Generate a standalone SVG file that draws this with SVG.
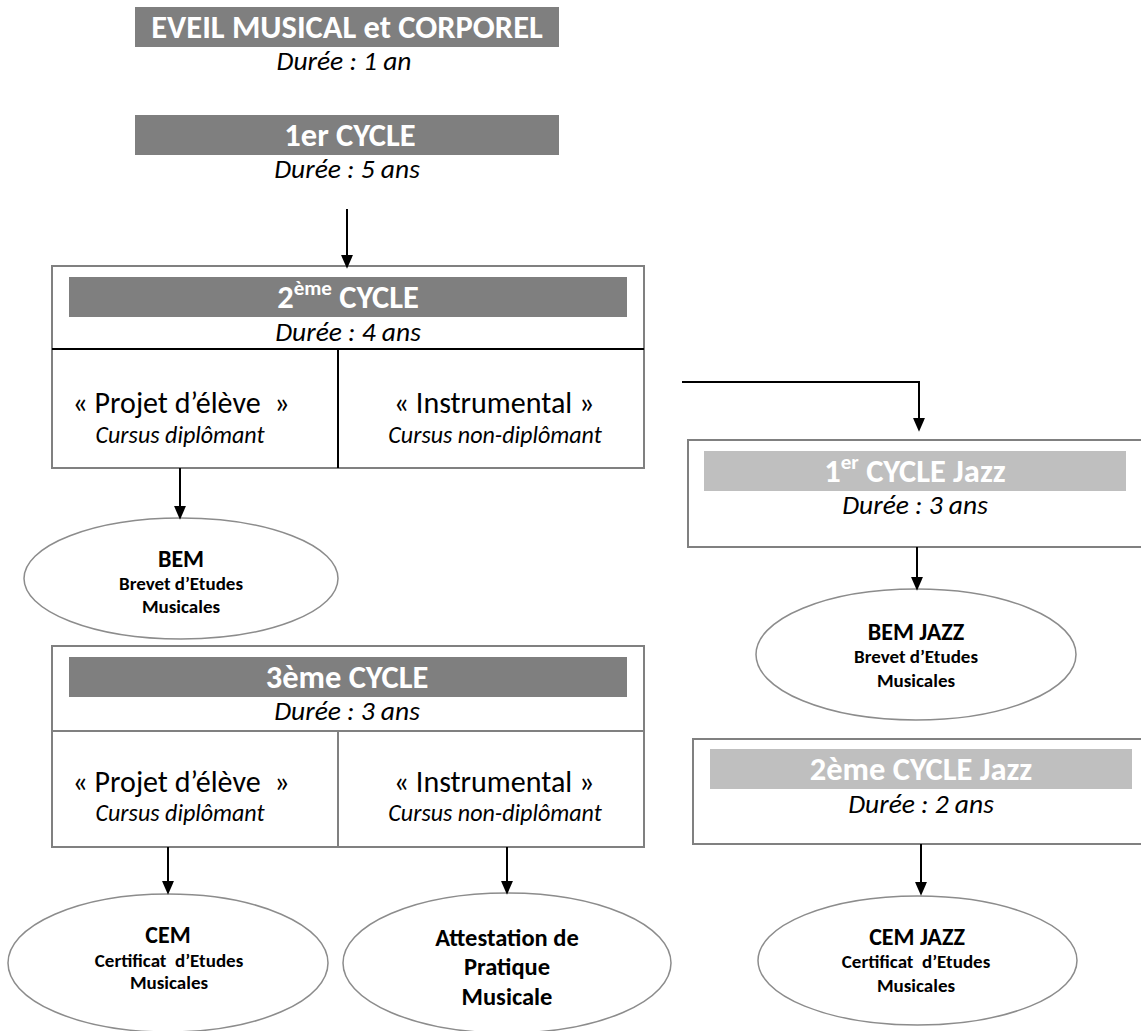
<svg xmlns="http://www.w3.org/2000/svg" width="1141" height="1031" viewBox="0 0 1141 1031">
<defs>
<style>
text{font-family:Carlito,Lato,"Liberation Sans",sans-serif;text-anchor:middle;fill:#000}
.dark{fill:#7f7f7f}
.light{fill:#bfbfbf}
.box{fill:#fff;stroke:#808080;stroke-width:2}
.ell{fill:#fff;stroke:#8c8c8c;stroke-width:1.5}
.ttl{font-weight:bold;font-size:32.5px;fill:#fff}
.sup{font-size:21px}
.dur{font-style:italic;font-size:27.5px}
.opt{font-size:30px}
.cur{font-style:italic;font-size:24px}
.eh{font-weight:bold;font-size:24px}
.es{font-weight:bold;font-size:19px}
.ea{font-weight:bold;font-size:24.5px}
.div{stroke:#000;stroke-width:2}
.divg{stroke:#808080;stroke-width:2}
.conn{fill:none;stroke:#000;stroke-width:2;marker-end:url(#arr)}
</style>
<marker id="arr" markerUnits="userSpaceOnUse" markerWidth="14" markerHeight="16" refX="13" refY="7" orient="auto" viewBox="0 0 16 14">
<path d="M0,0 L16,7 L0,14 z" fill="#000"/>
</marker>
</defs>
<rect width="1141" height="1031" fill="#fff"/>

<g id="eveil">
<rect class="dark" x="135" y="7" width="424" height="40"/>
<text class="ttl" x="347" y="38">EVEIL MUSICAL et CORPOREL</text>
<text class="dur" x="344" y="70">Durée : 1 an</text>
</g>

<g id="cycle1">
<rect class="dark" x="135" y="115" width="424" height="40"/>
<text class="ttl" x="350" y="146">1er CYCLE</text>
<text class="dur" x="347" y="178">Durée : 5 ans</text>
</g>

<g id="cycle2">
<rect class="box" x="52" y="266" width="592" height="202"/>
<rect class="dark" x="69" y="277" width="558" height="40"/>
<text class="ttl" x="348" y="308">2<tspan class="sup" dy="-13">ème</tspan><tspan dy="13"> CYCLE</tspan></text>
<text class="dur" x="348" y="341">Durée : 4 ans</text>
<line class="div" x1="52" y1="349" x2="644" y2="349"/>
<line class="div" x1="338" y1="349" x2="338" y2="468"/>
<text class="opt" x="181" y="413">« Projet d’élève&#160;&#160;»</text>
<text class="cur" x="180" y="443">Cursus diplômant</text>
<text class="opt" x="494" y="413">« Instrumental »</text>
<text class="cur" x="495" y="443">Cursus non-diplômant</text>
</g>

<g id="bem">
<ellipse class="ell" cx="181" cy="578.5" rx="157" ry="60.5"/>
<text class="eh" x="181" y="567">BEM</text>
<text class="es" x="181" y="590">Brevet d’Etudes</text>
<text class="es" x="181" y="613">Musicales</text>
</g>

<g id="cycle3">
<rect class="box" x="52" y="646" width="592" height="201"/>
<rect class="dark" x="69" y="657" width="558" height="40"/>
<text class="ttl" x="347" y="688">3ème CYCLE</text>
<text class="dur" x="347" y="720">Durée : 3 ans</text>
<line class="divg" x1="52" y1="731" x2="644" y2="731"/>
<line class="divg" x1="338" y1="731" x2="338" y2="847"/>
<text class="opt" x="181" y="792">« Projet d’élève&#160;&#160;»</text>
<text class="cur" x="180" y="821">Cursus diplômant</text>
<text class="opt" x="494" y="792">« Instrumental »</text>
<text class="cur" x="495" y="821">Cursus non-diplômant</text>
</g>

<g id="cem">
<ellipse class="ell" cx="168" cy="963" rx="160" ry="69"/>
<text class="eh" x="168" y="943">CEM</text>
<text class="es" x="169" y="967">Certificat&#160;&#160;d’Etudes</text>
<text class="es" x="169" y="989">Musicales</text>
</g>

<g id="attestation">
<ellipse class="ell" cx="507" cy="963" rx="164" ry="70"/>
<text class="ea" x="507" y="946">Attestation de</text>
<text class="ea" x="507" y="975">Pratique</text>
<text class="ea" x="507" y="1005">Musicale</text>
</g>

<g id="jazz1">
<rect class="box" x="688" y="440" width="470" height="107"/>
<rect class="light" x="704" y="451" width="422" height="40"/>
<text class="ttl" x="915" y="482">1<tspan class="sup" dy="-13">er</tspan><tspan dy="13"> CYCLE Jazz</tspan></text>
<text class="dur" x="915" y="514">Durée : 3 ans</text>
</g>

<g id="bemjazz">
<ellipse class="ell" cx="916" cy="654.5" rx="160" ry="65.5"/>
<text class="eh" x="916" y="640">BEM JAZZ</text>
<text class="es" x="916" y="663">Brevet d’Etudes</text>
<text class="es" x="916" y="687">Musicales</text>
</g>

<g id="jazz2">
<rect class="box" x="693" y="739" width="470" height="105"/>
<rect class="light" x="710" y="749" width="422" height="40"/>
<text class="ttl" x="921" y="780">2ème CYCLE Jazz</text>
<text class="dur" x="921" y="813">Durée : 2 ans</text>
</g>

<g id="cemjazz">
<ellipse class="ell" cx="917.5" cy="960.5" rx="159.5" ry="64.5"/>
<text class="eh" x="917" y="945">CEM JAZZ</text>
<text class="es" x="916" y="968">Certificat&#160;&#160;d’Etudes</text>
<text class="es" x="916" y="992">Musicales</text>
</g>

<g id="connectors">
<path class="conn" d="M347,209 V266"/>
<path class="conn" d="M180,468 V517"/>
<path class="conn" d="M168,847 V892"/>
<path class="conn" d="M507,847 V892"/>
<path class="conn" d="M682,382 H919 V429"/>
<path class="conn" d="M917,547 V588"/>
<path class="conn" d="M921,844 V893"/>
</g>
</svg>
